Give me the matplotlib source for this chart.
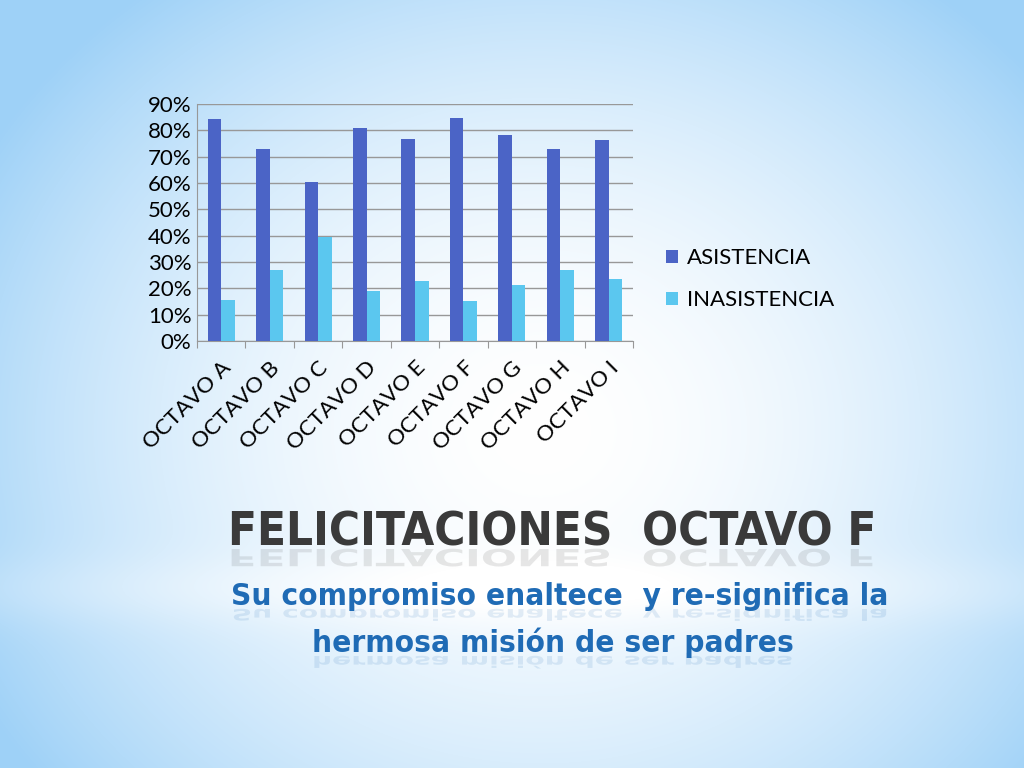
import numpy as np
import matplotlib
matplotlib.use("Agg")
import matplotlib.pyplot as plt
from matplotlib.ticker import PercentFormatter
from matplotlib.textpath import TextPath
from matplotlib.patches import PathPatch
from matplotlib.font_manager import FontProperties
from matplotlib.transforms import Affine2D

# datos
cursos = ["OCTAVO A", "OCTAVO B", "OCTAVO C", "OCTAVO D", "OCTAVO E",
          "OCTAVO F", "OCTAVO G", "OCTAVO H", "OCTAVO I"]
asistencia = [0.842, 0.728, 0.605, 0.810, 0.768, 0.846, 0.784, 0.728, 0.763]
inasistencia = [0.154, 0.268, 0.393, 0.188, 0.227, 0.152, 0.214, 0.268, 0.235]
series = ["ASISTENCIA", "INASISTENCIA"]
colores = ["#4B64C6", "#5BC7EF"]

titulo = "FELICITACIONES  OCTAVO F"
subtitulo = ["Su compromiso enaltece  y re-significa la",
             "hermosa misión de ser padres"]

plt.rcParams["font.family"] = ["Lato", "DejaVu Sans"]

fig = plt.figure(figsize=(10.24, 7.68), dpi=100)

# fondo degradado azul claro
bg = fig.add_axes([0, 0, 1, 1], zorder=-10)
yy, xx = np.mgrid[0:768, 0:1024]
r = np.sqrt(((xx - 540) / 640.0) ** 2 + ((yy - 430) / 560.0) ** 2)
r = np.clip(r, 0, 1) ** 1.8
band = np.exp(-((yy - 590) / 35.0) ** 2) * 0.15
c0 = np.array([1.0, 1.0, 1.0])
c1 = np.array([0.62, 0.82, 0.97])
t = np.clip(r - band, 0, 1)[..., None]
img = c0 * (1 - t) + c1 * t
bg.imshow(img, extent=[0, 1024, 768, 0], aspect="auto")
bg.set_xlim(0, 1024)
bg.set_ylim(768, 0)
bg.axis("off")

# grafico de barras
ax = fig.add_axes([0.1924, 0.556, 0.4258, 0.3086])
ax.patch.set_alpha(0)
x = np.arange(len(cursos))
w = 0.28
ax.bar(x - w / 2, asistencia, w, color=colores[0], label=series[0], zorder=3)
ax.bar(x + w / 2, inasistencia, w, color=colores[1], label=series[1], zorder=3)
ax.set_xlim(-0.5, len(cursos) - 0.5)
ax.set_ylim(0, 0.9)
ax.set_yticks(np.arange(0, 0.91, 0.1))
ax.yaxis.set_major_formatter(PercentFormatter(1.0, decimals=0))
ax.grid(axis="y", color="#989898", lw=1, zorder=0)
for s in ["top", "right"]:
    ax.spines[s].set_visible(False)
ax.spines["left"].set_color("#989898")
ax.spines["bottom"].set_color("#989898")
ax.tick_params(axis="y", length=0, labelsize=16, pad=4)
ax.set_xticks(np.arange(-0.5, len(cursos), 1.0))
ax.set_xticklabels([])
ax.tick_params(axis="x", which="major", length=5, color="#989898", direction="out")
ax.set_xticks(x, minor=True)
ax.set_xticklabels(cursos, minor=True, rotation=45, ha="right",
                   rotation_mode="anchor", fontsize=16)
ax.tick_params(axis="x", which="minor", length=0, pad=12)

ax.legend(loc="center left", bbox_to_anchor=(1.03, 0.26), frameon=False,
          fontsize=16, handlelength=0.55, handleheight=0.55, handletextpad=0.4,
          labelspacing=1.0)

# titulo y subtitulo con reflejo
fp_t = FontProperties(family=["DejaVu Sans"], weight="bold", stretch="condensed")
fp_s = FontProperties(family=["DejaVu Sans"], weight="bold", stretch="condensed")
subcol = "#1F6BB5"
t_size = 34
s_size = 22.6

fig.text(552 / 1024, 1 - 545 / 768, titulo, fontproperties=fp_t, fontsize=t_size,
         color="#3a3a3a", ha="center", va="baseline")
fig.text(560 / 1024, 1 - 605 / 768, subtitulo[0], fontproperties=fp_s, fontsize=s_size,
         color=subcol, ha="center", va="baseline")
fig.text(553 / 1024, 1 - 652 / 768, subtitulo[1], fontproperties=fp_s, fontsize=s_size,
         color=subcol, ha="center", va="baseline")

def reflejo(texto, fp, size, cx, base, color, alpha):
    tp = TextPath((0, 0), texto, prop=fp, size=size)
    bb = tp.get_extents()
    tr = Affine2D().translate(-(bb.x0 + bb.x1) / 2, 0).scale(1, 0.5).translate(cx, base + 4)
    bg.add_patch(PathPatch(tr.transform_path(tp), color=color, alpha=alpha, lw=0))

# reflejos (coordenadas de pixel del fondo, eje y invertido)
reflejo(titulo, fp_t, t_size * 100 / 72, 552, 545, "#444444", 0.13)
reflejo(subtitulo[0], fp_s, s_size * 100 / 72, 560, 605, subcol, 0.12)
reflejo(subtitulo[1], fp_s, s_size * 100 / 72, 553, 652, subcol, 0.12)

fig.savefig("out.png", dpi=100)
